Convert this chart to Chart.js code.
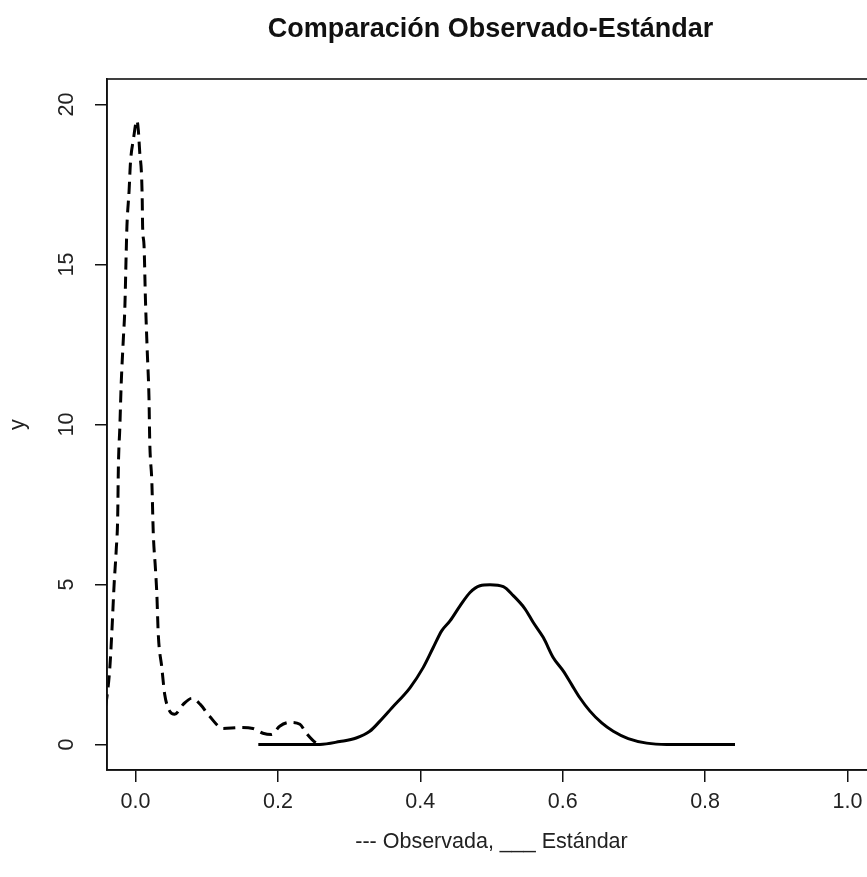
<!DOCTYPE html>
<html><head><meta charset="utf-8">
<script src="https://cdn.jsdelivr.net/npm/chart.js@4.4.1/dist/chart.umd.min.js"></script>
<style>
html,body{margin:0;padding:0;overflow:hidden;background:#fff;width:867px;height:877px}
#wrap{position:absolute;left:0;top:0;width:880px;height:877px}
</style>
</head><body><div id="wrap"><canvas id="c" width="880" height="877"></canvas></div>
<script>
const titleText = 'Comparación Observado-Estándar';
const xLabelText = '--- Observada, ___ Estándar';
const yLabelText = 'y';
const xTicks = [0, 0.2, 0.4, 0.6, 0.8, 1.0];
const xTickLabels = ['0.0', '0.2', '0.4', '0.6', '0.8', '1.0'];
const yTicks = [0, 5, 10, 15, 20];
const yTickLabels = ['0', '5', '10', '15', '20'];

// Observada (dashed)
const obsX = [-0.042, -0.040, -0.036, -0.033, -0.030, -0.027, -0.025, -0.024, -0.022, -0.020, -0.017, -0.015, -0.013, -0.012, -0.009, -0.007, -0.003, 0.002, 0.004, 0.006, 0.0085, 0.0095, 0.010, 0.012, 0.014, 0.0165, 0.019, 0.020, 0.023, 0.025, 0.028, 0.030, 0.032, 0.037, 0.041, 0.048, 0.055, 0.067, 0.079, 0.091, 0.104, 0.123, 0.147, 0.165, 0.179, 0.191, 0.2025, 0.217, 0.231, 0.240, 0.2545, 0.259];
const obsY = [1.2, 1.5, 2.4, 3.6, 5.0, 6.1, 7.1, 8.7, 9.9, 11.3, 12.7, 13.6, 15.4, 16.2, 17.3, 18.2, 18.9, 19.5, 19.2, 18.5, 17.8, 17.0, 16.2, 15.6, 13.9, 12.3, 10.8, 9.5, 8.2, 6.6, 5.5, 4.7, 3.45, 2.4, 1.57, 1.04, 0.94, 1.25, 1.44, 1.25, 0.88, 0.5, 0.53, 0.5, 0.35, 0.31, 0.57, 0.69, 0.63, 0.35, 0.03, 0.0];

// Estándar (solid)
const stdX = [0.1725, 0.259, 0.287, 0.31, 0.329, 0.343, 0.36, 0.3855, 0.404, 0.418, 0.430, 0.4417, 0.4558, 0.4698, 0.4838, 0.4979, 0.5166, 0.5306, 0.547, 0.5587, 0.5728, 0.5868, 0.6009, 0.6126, 0.6243, 0.6383, 0.6548, 0.671, 0.692, 0.718, 0.746, 0.842];
const stdY = [0, 0, 0.09, 0.2, 0.41, 0.72, 1.14, 1.77, 2.4, 3.02, 3.55, 3.86, 4.33, 4.75, 4.96, 4.99, 4.93, 4.65, 4.24, 3.81, 3.34, 2.71, 2.29, 1.87, 1.45, 1.04, 0.67, 0.41, 0.18, 0.04, 0.0, 0.0];

const FONT = '"Liberation Sans", Arial, sans-serif';
const BASE = 21.5;

const rDecor = {
  id: 'rDecor',
  afterDraw(chart) {
    const ctx = chart.ctx;
    const a = chart.chartArea;
    const xs = chart.scales.x, ys = chart.scales.y;
    ctx.save();
    // box
    ctx.strokeStyle = '#111';
    ctx.lineWidth = 1.6;
    ctx.strokeRect(a.left, a.top, a.right - a.left, a.bottom - a.top);
    ctx.fillStyle = '#111';
    // title
    ctx.font = 'bold 27px ' + FONT;
    ctx.textAlign = 'center';
    ctx.textBaseline = 'middle';
    const cx = (a.left + a.right) / 2;
    ctx.fillText(titleText, cx - 1, 30);
    // x tick labels
    ctx.font = BASE + 'px ' + FONT;
    ctx.fillStyle = '#222';
    xTicks.forEach((v, i) => {
      ctx.fillText(xTickLabels[i], xs.getPixelForValue(v), 802);
    });
    // x label
    ctx.fillText(xLabelText, cx, 842);
    // y tick labels (rotated)
    yTicks.forEach((v, i) => {
      ctx.save();
      ctx.translate(67, ys.getPixelForValue(v));
      ctx.rotate(-Math.PI / 2);
      ctx.fillText(yTickLabels[i], 0, 0);
      ctx.restore();
    });
    // y label
    ctx.save();
    ctx.translate(18, (a.top + a.bottom) / 2);
    ctx.rotate(-Math.PI / 2);
    ctx.fillText(yLabelText, 0, 0);
    ctx.restore();
    ctx.restore();
  }
};

new Chart(document.getElementById('c'), {
  type: 'line',
  data: {
    datasets: [
      {
        label: 'Observada',
        data: obsX.map((x, i) => ({x, y: obsY[i]})),
        borderColor: '#000',
        borderWidth: 3,
        borderDash: [12, 7],
        pointRadius: 0,
        cubicInterpolationMode: 'monotone',
        fill: false
      },
      {
        label: 'Estándar',
        data: stdX.map((x, i) => ({x, y: stdY[i]})),
        borderColor: '#000',
        borderWidth: 3,
        pointRadius: 0,
        cubicInterpolationMode: 'monotone',
        fill: false
      }
    ]
  },
  options: {
    responsive: false,
    animation: false,
    events: [],
    layout: { padding: { left: 0, right: 4, top: 79, bottom: 0 } },
    plugins: { legend: { display: false }, tooltip: { enabled: false }, title: { display: false } },
    scales: {
      x: {
        type: 'linear',
        min: -0.04, max: 1.04,
        afterBuildTicks: s => { s.ticks = xTicks.map(v => ({ value: v })); },
        afterFit: s => { s.height = 107; },
        ticks: { display: false },
        grid: { drawOnChartArea: false, drawTicks: true, tickLength: 12, color: '#111', lineWidth: 1.5 },
        border: { display: true, color: '#111', width: 1.6 }
      },
      y: {
        type: 'linear',
        min: -0.8, max: 20.8,
        afterBuildTicks: s => { s.ticks = yTicks.map(v => ({ value: v })); },
        afterFit: s => { s.width = 107; },
        ticks: { display: false },
        grid: { drawOnChartArea: false, drawTicks: true, tickLength: 12, color: '#111', lineWidth: 1.5 },
        border: { display: true, color: '#111', width: 1.6 }
      }
    }
  },
  plugins: [rDecor]
});
</script>
</body></html>
